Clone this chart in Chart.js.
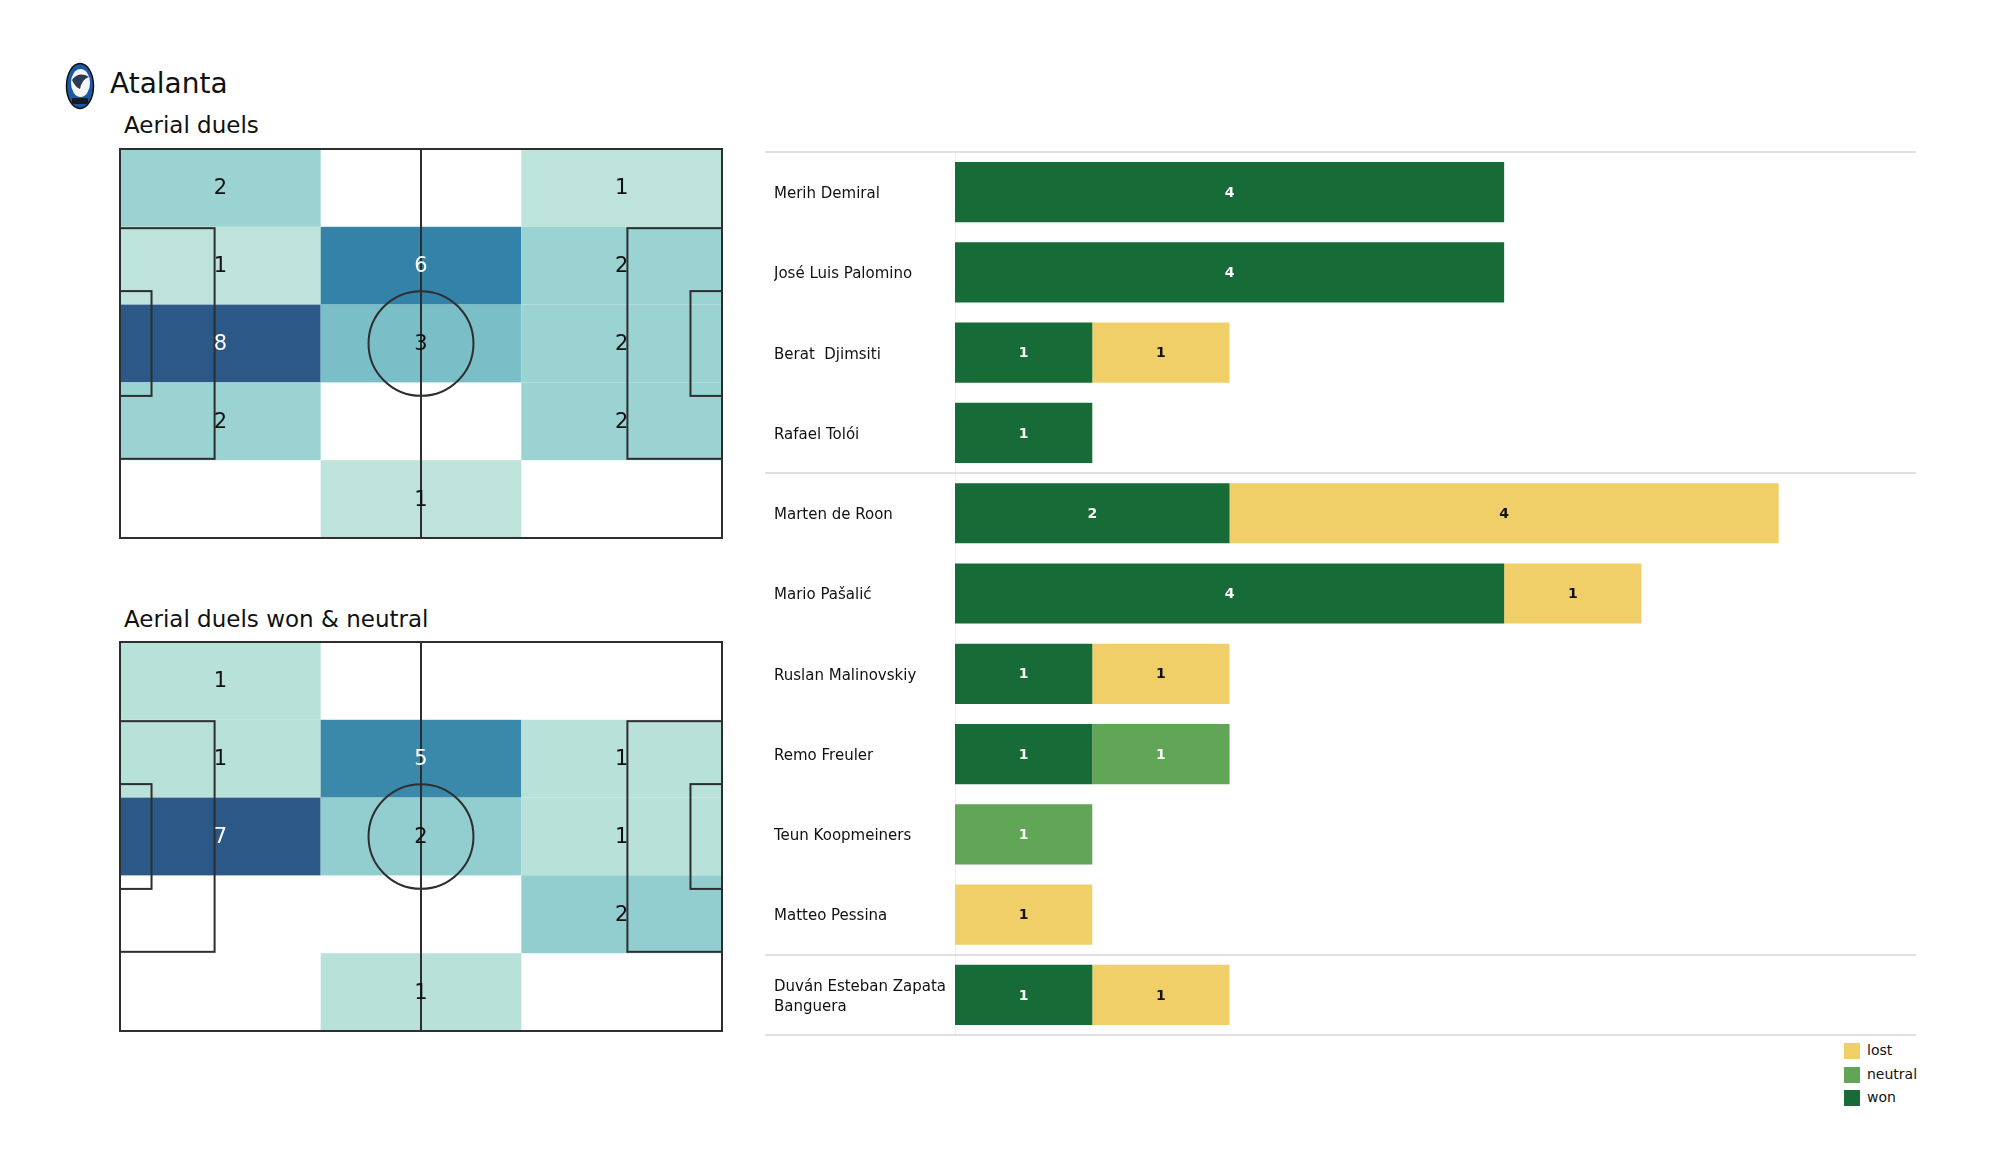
<!DOCTYPE html>
<html>
<head>
<meta charset="utf-8">
<script src="https://cdn.jsdelivr.net/npm/chart.js@4.4.0/dist/chart.umd.min.js"></script>
<style>
  body { margin: 0; width: 2000px; height: 1175px; background: #fff; position: relative; overflow: hidden;
         font-family: "DejaVu Sans", sans-serif; color: #111; }
  .abs { position: absolute; }
  .txt { white-space: nowrap; }
  .legend-row { position: absolute; left: 0; height: 16px; }
  .legend-row span.box { position: absolute; left: 0; top: 0; width: 16px; height: 16px; }
  .legend-row span.lbl { position: absolute; left: 23px; top: -1px; font-size: 14px; line-height: 16px; color: #111; }
</style>
</head>
<body>

<svg class="abs" style="left:65px;top:62px" width="30" height="48" viewBox="0 0 30 48">
  <ellipse cx="15" cy="24" rx="13.5" ry="22.5" fill="#1d58a6" stroke="#111" stroke-width="1.5"/>
  <ellipse cx="15.5" cy="21" rx="9.5" ry="14" fill="#f4f6fa"/>
  <path d="M7 18 Q14 9 24 15 Q17 17 15 27 Q10 25 7 18Z" fill="#2c3a55"/>
  <rect x="7" y="36" width="16" height="6" rx="1" fill="#1a1a1a"/>
</svg>
<div class="abs txt" style="left:110px;top:70px;font-size:28px;line-height:28px">Atalanta</div>
<div class="abs txt" style="left:124px;top:114px;font-size:23px;line-height:23px">Aerial duels</div>
<div class="abs txt" style="left:124px;top:608px;font-size:23px;line-height:23px">Aerial duels won &amp; neutral</div>

<div class="abs" style="left:116px;top:145px;width:610px;height:397px"><canvas id="pitchAll"></canvas></div>
<div class="abs" style="left:116px;top:638px;width:610px;height:397px"><canvas id="pitchWon"></canvas></div>
<div class="abs" style="left:765px;top:148px;width:1155px;height:891px"><canvas id="duelsChart"></canvas></div>
<div class="abs" id="legend" style="left:1844px;top:1043px;width:120px;height:70px"></div>

<script>
// heatmap counts, rows top -> bottom, columns left -> right
const aerialDuels = [
  [2, 0, 1],
  [1, 6, 2],
  [8, 3, 2],
  [2, 0, 2],
  [0, 1, 0]
];
const aerialDuelsWonNeutral = [
  [1, 0, 0],
  [1, 5, 1],
  [7, 2, 1],
  [0, 0, 2],
  [0, 1, 0]
];

const players = [
  "Merih Demiral",
  "José Luis Palomino",
  "Berat  Djimsiti",
  "Rafael Tolói",
  "Marten de Roon",
  "Mario Pašalić",
  "Ruslan Malinovskiy",
  "Remo Freuler",
  "Teun Koopmeiners",
  "Matteo Pessina",
  ["Duván Esteban Zapata", "Banguera"]
];
const playerGroups = ["DF", "DF", "DF", "DF", "MF", "MF", "MF", "MF", "MF", "MF", "FW"];
const won = [4, 4, 1, 1, 2, 4, 1, 1, 0, 0, 1];
const neutral = [0, 0, 0, 0, 0, 0, 0, 1, 1, 0, 0];
const lost = [0, 0, 1, 0, 4, 1, 1, 0, 0, 1, 1];
const seriesNames = ["won", "neutral", "lost"];

const PITCH_L = 105;
const PITCH_W = 68;
const WON_COLOR = "#166b37";
const NEUTRAL_COLOR = "#61a556";
const LOST_COLOR = "#f0cf68";

Chart.defaults.font.family = '"DejaVu Sans", sans-serif';
Chart.defaults.color = "#111";

const heatStops = [
  [0.125, [189, 227, 218]],
  [0.25, [155, 211, 210]],
  [0.375, [122, 190, 200]],
  [0.75, [51, 131, 168]],
  [1.0, [43, 88, 134]]
];

function heatColor(t) {
  if (t <= heatStops[0][0]) return "rgb(" + heatStops[0][1].join(",") + ")";
  for (let i = 1; i < heatStops.length; i++) {
    if (t <= heatStops[i][0]) {
      let a = heatStops[i - 1], b = heatStops[i];
      let f = (t - a[0]) / (b[0] - a[0]);
      let c = a[1].map((v, k) => Math.round(v + (b[1][k] - v) * f));
      return "rgb(" + c.join(",") + ")";
    }
  }
  return "rgb(" + heatStops[heatStops.length - 1][1].join(",") + ")";
}

function pitchPlugin(counts) {
  const maxCount = Math.max(...counts.flat());
  return {
    id: "pitch",
    beforeDatasetsDraw(chart) {
      const ctx = chart.ctx, xs = chart.scales.x, ys = chart.scales.y;
      const nRows = counts.length, nCols = counts[0].length;
      ctx.save();
      for (let r = 0; r < nRows; r++) {
        for (let c = 0; c < nCols; c++) {
          let v = counts[r][c];
          if (!v) continue;
          let x0 = xs.getPixelForValue(c * PITCH_L / nCols);
          let x1 = xs.getPixelForValue((c + 1) * PITCH_L / nCols);
          let y0 = ys.getPixelForValue(r * PITCH_W / nRows);
          let y1 = ys.getPixelForValue((r + 1) * PITCH_W / nRows);
          ctx.fillStyle = heatColor(v / maxCount);
          ctx.fillRect(x0, y0, x1 - x0, y1 - y0);
        }
      }
      ctx.restore();
    },
    afterDatasetsDraw(chart) {
      const ctx = chart.ctx, xs = chart.scales.x, ys = chart.scales.y;
      const px = (v) => xs.getPixelForValue(v);
      const py = (v) => ys.getPixelForValue(v);
      ctx.save();
      ctx.strokeStyle = "#2e2e2e";
      ctx.lineWidth = 2;

      function rect(x0, y0, x1, y1) {
        ctx.strokeRect(px(x0), py(y0), px(x1) - px(x0), py(y1) - py(y0));
      }
      rect(0, 0, PITCH_L, PITCH_W);
      ctx.beginPath();
      ctx.moveTo(px(PITCH_L / 2), py(0));
      ctx.lineTo(px(PITCH_L / 2), py(PITCH_W));
      ctx.stroke();
      // penalty areas and six yard boxes
      const boxW = 40.32, sixW = 18.32;
      rect(0, (PITCH_W - boxW) / 2, 16.5, (PITCH_W + boxW) / 2);
      rect(PITCH_L - 16.5, (PITCH_W - boxW) / 2, PITCH_L, (PITCH_W + boxW) / 2);
      rect(0, (PITCH_W - sixW) / 2, 5.5, (PITCH_W + sixW) / 2);
      rect(PITCH_L - 5.5, (PITCH_W - sixW) / 2, PITCH_L, (PITCH_W + sixW) / 2);
      // centre circle
      ctx.beginPath();
      ctx.ellipse(px(PITCH_L / 2), py(PITCH_W / 2),
        Math.abs(px(9.15) - px(0)), Math.abs(py(9.15) - py(0)), 0, 0, Math.PI * 2);
      ctx.stroke();

      // counts
      const nRows = counts.length, nCols = counts[0].length;
      ctx.font = '21px "DejaVu Sans"';
      ctx.textAlign = "center";
      ctx.textBaseline = "middle";
      for (let r = 0; r < nRows; r++) {
        for (let c = 0; c < nCols; c++) {
          let v = counts[r][c];
          if (!v) continue;
          ctx.fillStyle = v / maxCount > 0.6 ? "#ffffff" : "#111111";
          ctx.fillText(v, px((c + 0.5) * PITCH_L / nCols), py((r + 0.5) * PITCH_W / nRows) + 1);
        }
      }
      ctx.restore();
    }
  };
}

function plotPitch(canvasId, counts) {
  return new Chart(document.getElementById(canvasId), {
    type: "scatter",
    data: { datasets: [] },
    options: {
      responsive: true,
      maintainAspectRatio: false,
      animation: false,
      layout: { padding: 4 },
      plugins: { legend: { display: false }, tooltip: { enabled: false } },
      scales: {
        x: { type: "linear", min: 0, max: PITCH_L, display: false },
        y: { type: "linear", min: 0, max: PITCH_W, reverse: true, display: false }
      }
    },
    plugins: [pitchPlugin(counts)]
  });
}

plotPitch("pitchAll", aerialDuels);
plotPitch("pitchWon", aerialDuelsWonNeutral);

// group separators + values on the bars
const groupLines = {
  id: "groupLines",
  beforeDatasetsDraw(chart) {
    const ctx = chart.ctx, ys = chart.scales.y;
    let breaks = [-0.5];
    for (let i = 1; i < playerGroups.length; i++) {
      if (playerGroups[i] != playerGroups[i - 1]) breaks.push(i - 0.5);
    }
    breaks.push(playerGroups.length - 0.5);
    ctx.save();
    ctx.strokeStyle = "#d6d6d6";
    ctx.lineWidth = 1.5;
    breaks.forEach(b => {
      let y = Math.round(ys.getPixelForValue(b));
      ctx.beginPath();
      ctx.moveTo(0, y);
      ctx.lineTo(chart.chartArea.right, y);
      ctx.stroke();
    });
    ctx.restore();
  }
};

const barValues = {
  id: "barValues",
  afterDatasetsDraw(chart) {
    const ctx = chart.ctx;
    ctx.save();
    ctx.font = 'bold 14px "DejaVu Sans"';
    ctx.textAlign = "center";
    ctx.textBaseline = "middle";
    chart.data.datasets.forEach((ds, di) => {
      chart.getDatasetMeta(di).data.forEach((bar, i) => {
        let v = ds.data[i];
        if (!v) return;
        ctx.fillStyle = ds.label == "lost" ? "#111111" : "#ffffff";
        ctx.fillText(v, (bar.x + bar.base) / 2, bar.y + 1);
      });
    });
    ctx.restore();
  }
};

const seriesColors = [WON_COLOR, NEUTRAL_COLOR, LOST_COLOR];

new Chart(document.getElementById("duelsChart"), {
  type: "bar",
  data: {
    labels: players,
    datasets: [
      { label: seriesNames[0], data: won, backgroundColor: seriesColors[0] },
      { label: seriesNames[1], data: neutral, backgroundColor: seriesColors[1] },
      { label: seriesNames[2], data: lost, backgroundColor: seriesColors[2] }
    ]
  },
  options: {
    indexAxis: "y",
    responsive: true,
    maintainAspectRatio: false,
    animation: false,
    layout: { padding: { left: 9, right: 4, top: 4, bottom: 4 } },
    datasets: { bar: { categoryPercentage: 1, barPercentage: 0.75, borderWidth: 0 } },
    plugins: { legend: { display: false }, tooltip: { enabled: false } },
    scales: {
      x: { stacked: true, min: 0, max: 7, display: false },
      y: {
        stacked: true,
        grid: { display: false },
        border: { display: true, color: "#efefef", width: 1 },
        ticks: {
          crossAlign: "far",
          autoSkip: false,
          labelOffset: 2,
          color: "#111",
          font: { size: 15, lineHeight: 1.3 }
        },
        afterFit(scale) {
          scale.width = 181;
          scale.paddingTop = 0;
          scale.paddingBottom = 0;
        }
      }
    }
  },
  plugins: [groupLines, barValues]
});

// legend, lost on top
const legendBox = document.getElementById("legend");
for (let i = seriesNames.length - 1, row = 0; i >= 0; i--, row++) {
  let item = document.createElement("div");
  item.className = "legend-row";
  item.style.top = (row * 23.5) + "px";
  item.innerHTML = '<span class="box" style="background:' + seriesColors[i] + '"></span><span class="lbl">' + seriesNames[i] + "</span>";
  legendBox.appendChild(item);
}
</script>
</body>
</html>
